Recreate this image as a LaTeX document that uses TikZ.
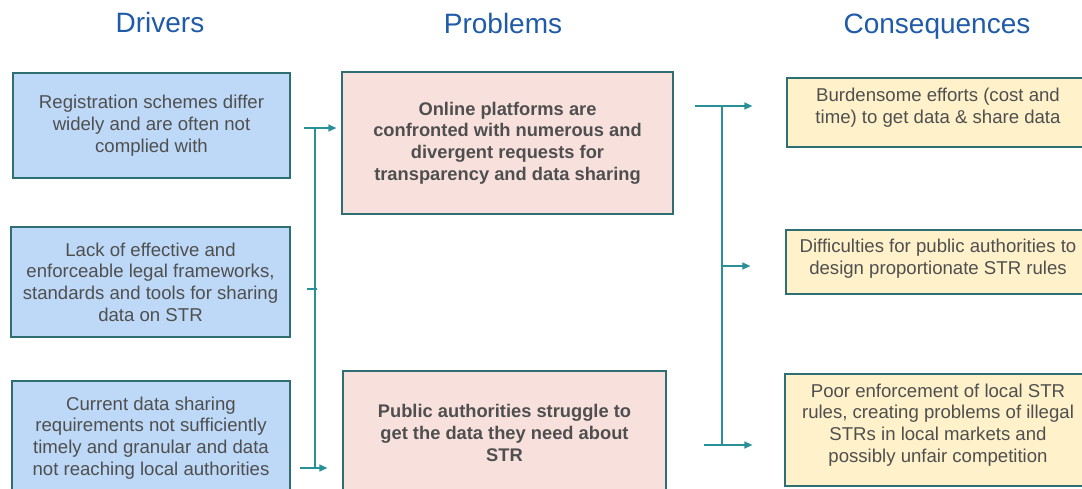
\documentclass[tikz,border=0pt]{standalone}
\usepackage{fontspec}
\setmainfont{Liberation Sans}
\usepackage{xcolor}
\usepackage{tikz}
\usetikzlibrary{arrows.meta}

\definecolor{titleblue}{HTML}{1F5BA8}
\definecolor{txtgray}{HTML}{4F4F4F}
\definecolor{edgeteal}{HTML}{2F6F73}
\definecolor{lineteal}{HTML}{2A9098}
\definecolor{drvfill}{HTML}{BDD9F7}
\definecolor{prbfill}{HTML}{F8E1DC}
\definecolor{csqfill}{HTML}{FFF1CA}

\begin{document}
\begin{tikzpicture}[x=1pt,y=-1pt,>={Triangle[length=8pt,width=7pt]},
    title/.style={text=titleblue,font=\fontsize{28}{31}\selectfont},
    box/.style={draw=edgeteal,line width=1.2pt,align=center,text=txtgray,
        font=\fontsize{18.6}{21.7}\selectfont,inner sep=0pt},
    driver/.style={box,fill=drvfill},
    problem/.style={box,fill=prbfill,font=\fontsize{18.3}{21.7}\selectfont\bfseries},
    conseq/.style={box,fill=csqfill},
    link/.style={draw=lineteal,line width=1.3pt},
    linkarr/.style={link,->}
    ]
\useasboundingbox (0,0) rectangle (1082,488);
\clip (0,0) rectangle (1082,488);
% column titles
\node[title] (tdrv) at (160,22) {Drivers};
\node[title] (tprb) at (503,23) {Problems};
\node[title] (tcsq) at (937,27) {Consequences};
% drivers
\node[driver,minimum width=277,minimum height=105] (d1) at (151.5,125.5)
    {Registration schemes differ\\widely and are often not\\complied with};
\node[driver,minimum width=279,minimum height=110] (d2) at (150.5,282)
    {Lack of effective and\\enforceable legal frameworks,\\standards and tools for sharing\\data on STR};
\node[driver,minimum width=278,minimum height=114] (d3) at (151,438)
    {Current data sharing\\requirements not sufficiently\\timely and granular and data\\not reaching local authorities};
% problems
\node[problem,minimum width=331,minimum height=142] (p1) at (507.5,143)
    {Online platforms are\\confronted with numerous and\\divergent requests for\\transparency and data sharing};
\node[problem,minimum width=323,minimum height=124] (p2) at (504.5,433)
    {Public authorities struggle to\\get the data they need about\\STR};
% consequences
\node[conseq,minimum width=302,minimum height=69] (c1) at (938,112.5)
    {Burdensome efforts (cost and\\time) to get data \& share data\\[-7.7pt]};
\node[conseq,minimum width=304,minimum height=64] (c2) at (938,262)
    {Difficulties for public authorities to\\design proportionate STR rules\\[-11.7pt]};
\node[conseq,minimum width=306,minimum height=112] (c3) at (938,430)
    {Poor enforcement of local STR\\rules, creating problems of illegal\\STRs in local markets and\\possibly unfair competition\\[-7.7pt]};
% left bracket
\coordinate (ltop) at (315,128);
\coordinate (lmid) at (315,289);
\coordinate (lbot) at (315,468);
\draw[link] (ltop) -- (lbot);
\draw[link] ([xshift=-8]lmid) -- ([xshift=2]lmid);
\draw[linkarr,shorten >=5pt] ([xshift=-11]ltop) -- (ltop -| p1.west);
\draw[linkarr,shorten >=15pt] ([xshift=-15]lbot) -- (lbot -| p2.west);
% right bracket
\coordinate (rtop) at (722,106);
\coordinate (rmid) at (722,266);
\coordinate (rbot) at (722,445);
\draw[link] (rtop) -- (rbot);
\draw[linkarr,shorten >=34pt] ([xshift=-27]rtop) -- (rtop -| c1.west);
\draw[linkarr,shorten >=35pt] (rmid) -- (rmid -| c2.west);
\draw[linkarr,shorten >=32pt] ([xshift=-18]rbot) -- (rbot -| c3.west);
\end{tikzpicture}
\end{document}
